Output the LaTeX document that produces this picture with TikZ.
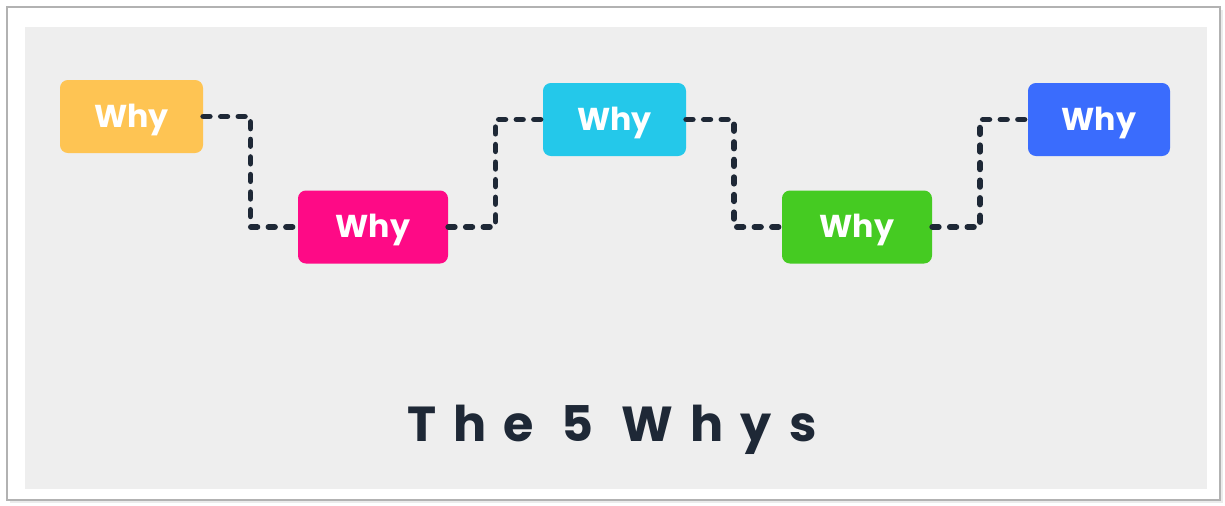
\documentclass[tikz,border=0pt]{standalone}
\usepackage{fontspec}
\setmainfont{Poppins}
\usetikzlibrary{calc}

\definecolor{whyyellow}{HTML}{FEC453}
\definecolor{whypink}{HTML}{FE0A86}
\definecolor{whycyan}{HTML}{24C8EA}
\definecolor{whygreen}{HTML}{45CB22}
\definecolor{whyblue}{HTML}{3A6CFD}
\definecolor{panel}{HTML}{EEEEEE}
\definecolor{ink}{HTML}{1E2836}

\begin{document}
\begin{tikzpicture}%
        [x=0.02cm, y=-0.02cm,
        why/.style={rounded corners=4.5pt, minimum height=73*0.02cm,
                    text=white, font=\fontsize{18}{20}\selectfont\bfseries, inner sep=0pt,
                    text height=12.5pt, text depth=0pt},
        link/.style={draw=ink, line width=3.4pt, line cap=round,
                     dash pattern=on 3.6pt off 6.4pt}]

    %% Frame and panel
    \useasboundingbox (0,0) rectangle (1225,505);
    \fill[black!8] (10,10) rectangle (1223,503);
    \filldraw[fill=white, draw=black!30, line width=0.8pt] (7,7) rectangle (1220,500);
    \fill[panel] (25,27) rectangle (1207,489);
    %%
    %% The five boxes
    %%
    \node[why, fill=whyyellow, minimum width=143*0.02cm] (w1) at (131.5,116.5) {Why};
    \node[why, fill=whypink,   minimum width=150*0.02cm] (w2) at (373,227)     {Why};
    \node[why, fill=whycyan,   minimum width=143*0.02cm] (w3) at (614.5,119.5) {Why};
    \node[why, fill=whygreen,  minimum width=150*0.02cm] (w4) at (857,227)     {Why};
    \node[why, fill=whyblue,   minimum width=142*0.02cm] (w5) at (1099,119.5)  {Why};
    %%
    %% Stepped dashed links
    %%
    \draw[link] (w1.east) -| ($(w1.east)!0.5!(w2.west)$) |- (w2.west);
    \draw[link] (w2.east) -| ($(w2.east)!0.5!(w3.west)$) |- (w3.west);
    \draw[link] (w3.east) -| ($(w3.east)!0.5!(w4.west)$) |- (w4.west);
    \draw[link] (w4.east) -| ($(w4.east)!0.5!(w5.west)$) |- (w5.west);
    %%
    %% Title
    %%
    \node[text=ink, font=\addfontfeatures{LetterSpace=35}\fontsize{28}{30}\selectfont\bfseries]
        (title) at (612,430) {The 5 Whys};
\end{tikzpicture}
\end{document}
